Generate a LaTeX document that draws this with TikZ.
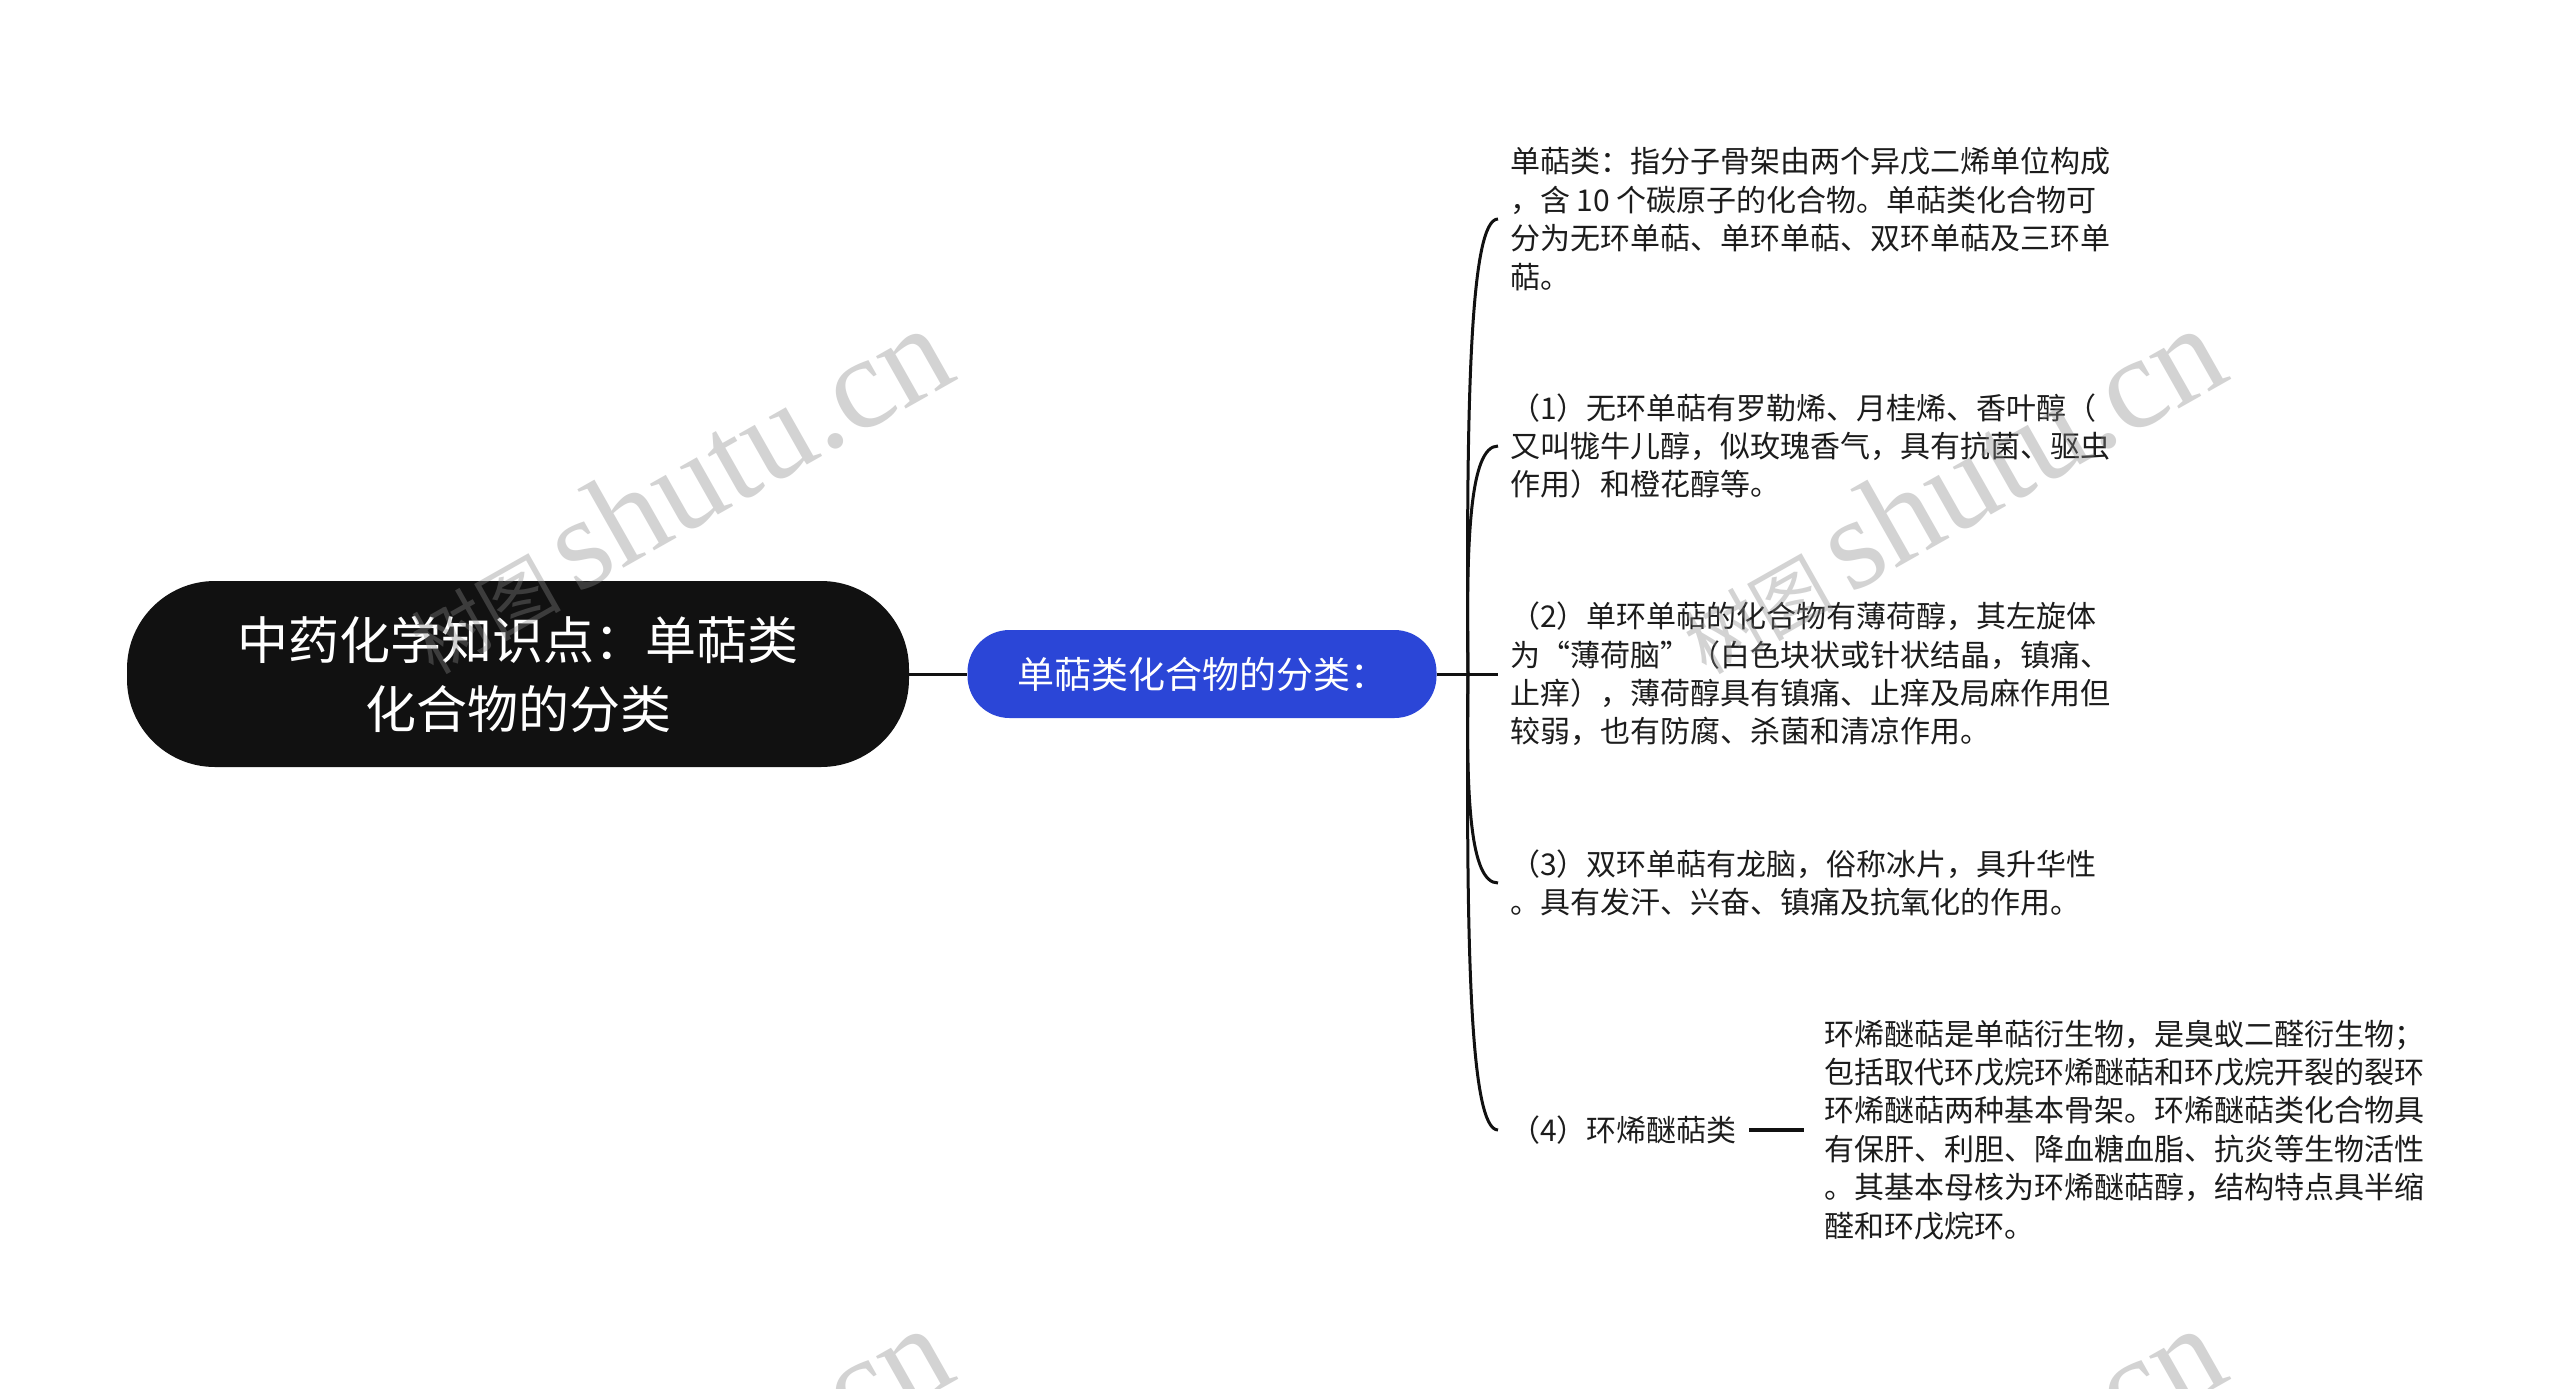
\documentclass[tikz,border=0pt]{standalone}
\usepackage{fontspec}
\newfontfamily\cjk{Noto Sans CJK SC}
\newfontfamily\wmserif{Liberation Serif}
\definecolor{rootbk}{RGB}{17,17,17}
\definecolor{bluebox}{RGB}{43,70,215}
\definecolor{txt}{RGB}{28,28,28}
\definecolor{wmgray}{RGB}{136,136,136}
\definecolor{linecol}{RGB}{17,17,17}
\newcommand\wmtext{{\cjk\fontsize{75}{80}\selectfont 树图}\hspace{15pt}{\wmserif\fontsize{131}{135}\selectfont shutu.cn}}
\begin{document}
\begin{tikzpicture}[x=1pt,y=-1pt,
  rootnode/.style={fill=rootbk, text=white, rounded corners=88pt, minimum width=782pt, minimum height=186pt, align=center, inner sep=0pt, font={\cjk\fontsize{51}{69}\selectfont}},
  subnode/.style={fill=bluebox, text=white, rounded corners=42pt, minimum width=469pt, minimum height=88pt, align=center, inner sep=0pt, font={\cjk\fontsize{37}{44}\selectfont}},
  leaf/.style={anchor=west, inner xsep=12pt, inner ysep=0pt, align=left, text=txt, font={\cjk\fontsize{30}{38.4}\selectfont}},
  conn/.style={draw=linecol, line width=3pt},
  wm/.style={text=wmgray, opacity=0.37, rotate=29.5, inner sep=0pt}
]
\fill[white] (0,0) rectangle (2560,1389);
\useasboundingbox (0,0) rectangle (2560,1389);

\node[rootnode] (root) at (518,674) {中药化学知识点：单萜类\\化合物的分类};
\node[subnode] (sub) at (1202,674) {单萜类化合物的分类：};
\coordinate (hub) at (1468,674);

\node[leaf] (c1) at (1498,219) {单萜类：指分子骨架由两个异戊二烯单位构成\\，含 10 个碳原子的化合物。单萜类化合物可\\分为无环单萜、单环单萜、双环单萜及三环单\\萜。};
\node[leaf] (c2) at (1498,446) {（1）无环单萜有罗勒烯、月桂烯、香叶醇（\\又叫牻牛儿醇，似玫瑰香气，具有抗菌、驱虫\\作用）和橙花醇等。};
\node[leaf] (c3) at (1498,674) {（2）单环单萜的化合物有薄荷醇，其左旋体\\为“薄荷脑”（白色块状或针状结晶，镇痛、\\止痒），薄荷醇具有镇痛、止痒及局麻作用但\\较弱，也有防腐、杀菌和清凉作用。};
\node[leaf] (c4) at (1498,883) {（3）双环单萜有龙脑，俗称冰片，具升华性\\。具有发汗、兴奋、镇痛及抗氧化的作用。};
\node[leaf] (c5) at (1498,1130) {（4）环烯醚萜类};
\node[leaf, inner xsep=20pt] (g1) at (1804,1130) {环烯醚萜是单萜衍生物，是臭蚁二醛衍生物；\\包括取代环戊烷环烯醚萜和环戊烷开裂的裂环\\环烯醚萜两种基本骨架。环烯醚萜类化合物具\\有保肝、利胆、降血糖血脂、抗炎等生物活性\\。其基本母核为环烯醚萜醇，结构特点具半缩\\醛和环戊烷环。};

\draw[conn] (root.east) -- (sub.west);
\draw[conn] (sub.east) -- (c3.west);
\draw[conn] (hub) .. controls (1466,401) and (1470,219) .. (c1.west);
\draw[conn] (hub) .. controls (1466,537) and (1470,446) .. (c2.west);
\draw[conn] (hub) .. controls (1466,799) and (1470,883) .. (c4.west);
\draw[conn] (hub) .. controls (1466,948) and (1470,1130) .. (c5.west);
\draw[conn, line width=4pt] (c5.east) -- (g1.west);

\node[wm] (wm1) at (676,490) {\wmtext};
\node[wm] (wm2) at (1949,490) {\wmtext};
\node[wm] (wm3) at (676,1490) {\wmtext};
\node[wm] (wm4) at (1949,1490) {\wmtext};
\end{tikzpicture}
\end{document}
